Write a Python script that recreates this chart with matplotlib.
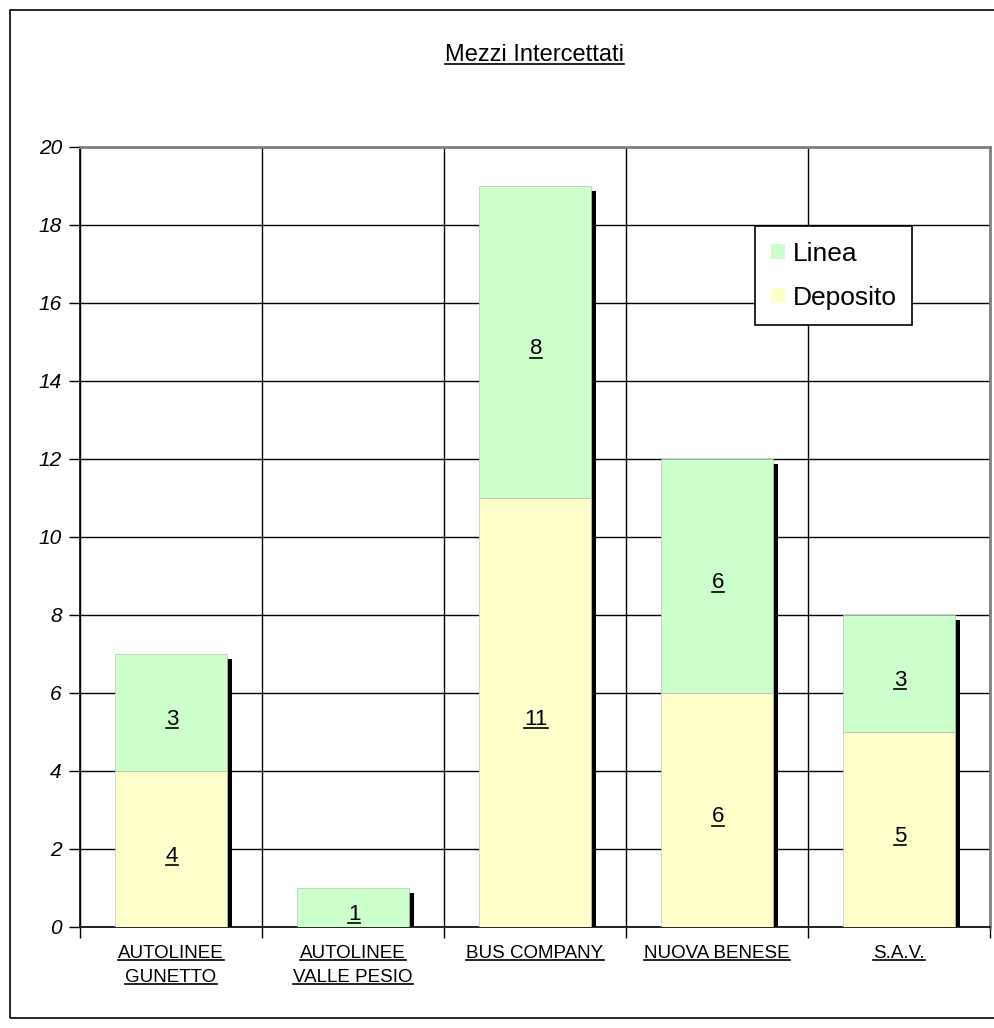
import matplotlib
matplotlib.use('Agg')
import matplotlib.pyplot as plt
import matplotlib.transforms as mtransforms
from matplotlib.patches import Rectangle
from matplotlib.lines import Line2D
import numpy as np

plt.rcParams['font.family'] = ['Liberation Sans', 'DejaVu Sans']

# dati
categorie = ['AUTOLINEE\nGUNETTO', 'AUTOLINEE\nVALLE PESIO', 'BUS COMPANY', 'NUOVA BENESE', 'S.A.V.']
deposito = [4, 0, 11, 6, 5]
linea = [3, 1, 8, 6, 3]
y_ticks = [0, 2, 4, 6, 8, 10, 12, 14, 16, 18, 20]

col_linea = '#CCFFCC'
col_deposito = '#FFFFCC'

W, H = 995, 1028
fig = plt.figure(figsize=(W / 100, H / 100), dpi=100)
fig.patch.set_facecolor('white')

# testi da sottolineare (riempito sotto)
sottolineati = []

# cornice esterna
fig.patches.append(Rectangle((10 / W, 10 / H), 1.2, 1 - 20 / H, transform=fig.transFigure,
                             fill=False, edgecolor='black', linewidth=1.2))

ax = fig.add_axes([80 / W, 1 - 927 / H, 910 / W, 780 / H])

x = np.arange(len(categorie))
dep = np.array(deposito)
lin = np.array(linea)
tot = dep + lin
larghezza = 0.62

# ombra delle barre
ombra = ax.transData + mtransforms.ScaledTranslation(5 / 100, -5 / 100, fig.dpi_scale_trans)
ax.bar(x, tot, width=larghezza, color='black', transform=ombra, zorder=2)

ax.bar(x, dep, width=larghezza, color=col_deposito, label='Deposito', zorder=3,
       edgecolor='#c8c8b4', linewidth=0.5)
ax.bar(x, lin, width=larghezza, bottom=dep, color=col_linea, label='Linea', zorder=3,
       edgecolor='#b4c8b4', linewidth=0.5)

# etichette dei valori, un po' piu' in basso del centro
giu = ax.transData + mtransforms.ScaledTranslation(1 / 100, -7 / 100, fig.dpi_scale_trans)
for i in range(len(categorie)):
    if dep[i] > 0:
        t = ax.text(x[i], dep[i] / 2, str(dep[i]), ha='center', va='center',
                    fontsize=16, zorder=5, transform=giu)
        sottolineati.append(t)
    if lin[i] > 0:
        t = ax.text(x[i], dep[i] + lin[i] / 2, str(lin[i]), ha='center', va='center',
                    fontsize=16, zorder=5, transform=giu)
        sottolineati.append(t)

ax.set_xlim(-0.5, len(categorie) - 0.5)
ax.set_ylim(0, 20)
ax.set_yticks(y_ticks)
ax.set_yticklabels([str(v) for v in y_ticks], fontsize=15, style='italic')
ax.yaxis.grid(True, color='black', linewidth=1)
ax.set_axisbelow(True)

# griglia verticale tra le categorie
ax.set_xticks(np.arange(len(categorie) + 1) - 0.5)
ax.set_xticklabels([])
ax.xaxis.grid(True, color='black', linewidth=1)
ax.tick_params(axis='x', length=8, width=1, direction='out')
ax.tick_params(axis='y', length=8, width=1, direction='out', pad=5)

# etichette delle categorie, una riga per testo
trans_cat = mtransforms.blended_transform_factory(ax.transData, ax.transAxes)
for i, c in enumerate(categorie):
    for j, riga in enumerate(c.split('\n')):
        t = ax.text(x[i], -0.034 - j * 0.031, riga, transform=trans_cat, ha='center',
                    va='center', fontsize=13.5)
        sottolineati.append(t)

for s in ['top', 'right']:
    ax.spines[s].set_color('#808080')
    ax.spines[s].set_linewidth(2)
for s in ['left', 'bottom']:
    ax.spines[s].set_color('black')
    ax.spines[s].set_linewidth(1.2)

handles, labels = ax.get_legend_handles_labels()
leg = ax.legend(handles[::-1], labels[::-1], loc='upper left',
                bbox_to_anchor=(755 / W, 1 - 226 / H), bbox_transform=fig.transFigure,
                borderaxespad=0, fontsize=19, fancybox=False, framealpha=1,
                edgecolor='black', handlelength=0.52, handleheight=0.52,
                handletextpad=0.3, labelspacing=0.75, borderpad=0.6)
leg.get_frame().set_linewidth(1.2)
leg.set_zorder(10)
for h in leg.legend_handles:
    h.set_edgecolor('none')

titolo = fig.text(535 / W, 1 - 55 / H, 'Mezzi Intercettati', ha='center', va='center',
                  fontsize=17)
sottolineati.append(titolo)

# sottolineatura: serve il renderer per le dimensioni dei testi
fig.canvas.draw()
for t in sottolineati:
    bb = t.get_window_extent()
    yy = bb.y0 + 2
    fig.add_artist(Line2D([bb.x0 / W, bb.x1 / W], [yy / H, yy / H], transform=fig.transFigure,
                          color='black', linewidth=1.2, zorder=6))

plt.savefig('out.png', dpi=100)
